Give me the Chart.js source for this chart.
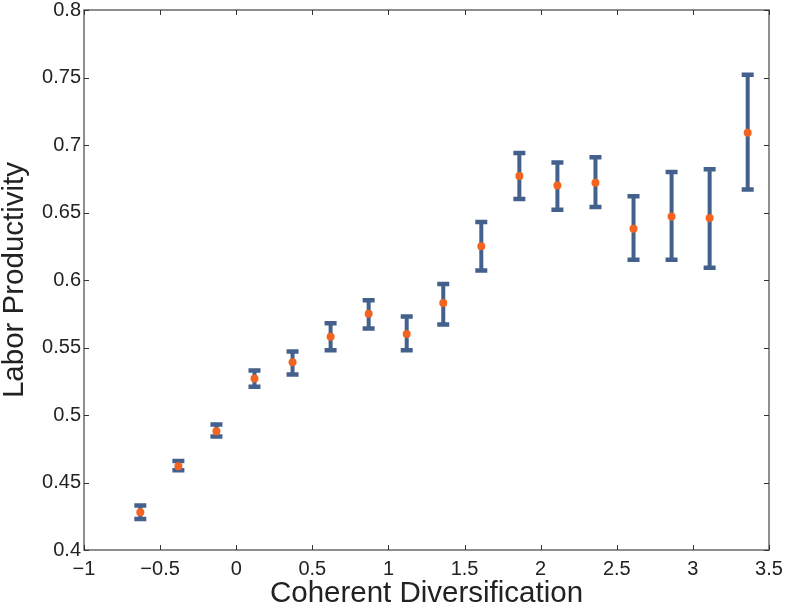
<!DOCTYPE html>
<html>
<head>
<meta charset="utf-8">
<script src="https://cdn.jsdelivr.net/npm/chart.js@4.4.1/dist/chart.umd.min.js"></script>
<style>
  html, body { margin: 0; padding: 0; background: #fff; }
  #wrap { width: 786px; height: 609px; }
</style>
</head>
<body>
<div id="wrap"><canvas id="myChart"></canvas></div>
<script>
const ctx = document.getElementById('myChart');

// coherent diversification bins (x) and mean labor productivity (y)
const xs    = [-0.63, -0.38, -0.13, 0.12, 0.37, 0.62, 0.87, 1.12, 1.36, 1.61, 1.86, 2.11, 2.36, 2.61, 2.86, 3.11, 3.36];
const means = [0.428, 0.462, 0.488, 0.527, 0.539, 0.558, 0.575, 0.560, 0.583, 0.625, 0.677, 0.670, 0.672, 0.638, 0.647, 0.646, 0.709];
const upper = [0.433, 0.466, 0.493, 0.533, 0.547, 0.568, 0.585, 0.573, 0.597, 0.643, 0.694, 0.687, 0.691, 0.662, 0.680, 0.682, 0.752];
const lower = [0.423, 0.459, 0.484, 0.521, 0.530, 0.548, 0.564, 0.548, 0.567, 0.607, 0.660, 0.652, 0.654, 0.615, 0.615, 0.609, 0.667];

const barColor = '#44608c';
const dotColor = '#f4631f';
const fontFam = '"Liberation Sans", Arial, Helvetica, sans-serif';

const points = xs.map((x, i) => ({ x: x, y: means[i] }));

// error bars, drawn under the dots
const errorBars = {
  id: 'errorBars',
  beforeDatasetsDraw(chart) {
    const c = chart.ctx;
    const xS = chart.scales.x, yS = chart.scales.y;
    c.save();
    c.strokeStyle = barColor;
    c.lineCap = 'butt';
    xs.forEach((x, i) => {
      const px = xS.getPixelForValue(x);
      const top = yS.getPixelForValue(upper[i]);
      const bot = yS.getPixelForValue(lower[i]);
      c.lineWidth = 4;
      c.beginPath();
      c.moveTo(px, top);
      c.lineTo(px, bot);
      c.stroke();
      c.lineWidth = 4.5;
      c.beginPath();
      c.moveTo(px - 6, top);
      c.lineTo(px + 6, top);
      c.moveTo(px - 6, bot);
      c.lineTo(px + 6, bot);
      c.stroke();
    });
    c.restore();
  }
};

// box round the plot with inward ticks on all four sides
const frame = {
  id: 'frame',
  afterDraw(chart) {
    const c = chart.ctx;
    const a = chart.chartArea;
    const xS = chart.scales.x, yS = chart.scales.y;
    c.save();
    c.strokeStyle = '#6a6a6a';
    c.lineWidth = 1.5;
    c.strokeRect(a.left, a.top, a.right - a.left, a.bottom - a.top);
    c.strokeStyle = '#333';
    c.lineWidth = 1;
    const len = 5;
    xS.ticks.forEach(t => {
      const px = Math.round(xS.getPixelForValue(t.value)) + 0.5;
      c.beginPath();
      c.moveTo(px, a.bottom); c.lineTo(px, a.bottom - len);
      c.moveTo(px, a.top); c.lineTo(px, a.top + len);
      c.stroke();
    });
    yS.ticks.forEach(t => {
      const py = Math.round(yS.getPixelForValue(t.value)) + 0.5;
      c.beginPath();
      c.moveTo(a.left, py); c.lineTo(a.left + len, py);
      c.moveTo(a.right, py); c.lineTo(a.right - len, py);
      c.stroke();
    });
    c.restore();
  }
};

new Chart(ctx, {
  type: 'scatter',
  data: {
    datasets: [{
      label: 'Labor Productivity',
      data: points,
      pointRadius: 4,
      pointBackgroundColor: dotColor,
      pointBorderWidth: 0,
      showLine: false
    }]
  },
  options: {
    responsive: true,
    maintainAspectRatio: false,
    animation: false,
    events: [],
    layout: { padding: { top: 10, right: 17, left: 0, bottom: 0 } },
    plugins: {
      legend: { display: false },
      tooltip: { enabled: false }
    },
    scales: {
      x: {
        type: 'linear',
        min: -1,
        max: 3.5,
        afterFit(s) { s.height = 59; s.paddingLeft = 0; s.paddingRight = 0; },
        grid: { display: false, drawTicks: false },
        border: { display: false },
        ticks: {
          stepSize: 0.5,
          padding: 7,
          color: '#222',
          font: { family: fontFam, size: 20 },
          maxRotation: 0,
          callback: v => String(+v.toFixed(2)).replace('-', '\u2212')
        },
        title: {
          display: true,
          text: 'Coherent Diversification',
          color: '#222',
          font: { family: fontFam, size: 29.5, lineHeight: 1 },
          padding: { top: 0, bottom: 0 }
        }
      },
      y: {
        min: 0.4,
        max: 0.8,
        afterFit(s) { s.width = 84; s.paddingTop = 0; s.paddingBottom = 0; },
        grid: { display: false, drawTicks: false },
        border: { display: false },
        ticks: {
          stepSize: 0.05,
          padding: 3,
          color: '#222',
          font: { family: fontFam, size: 20 },
          callback: v => String(+v.toFixed(2))
        },
        title: {
          display: true,
          text: 'Labor Productivity',
          color: '#222',
          font: { family: fontFam, size: 29.5, lineHeight: 1 },
          padding: { top: 0, bottom: 0 }
        }
      }
    }
  },
  plugins: [errorBars, frame]
});
</script>
</body>
</html>
